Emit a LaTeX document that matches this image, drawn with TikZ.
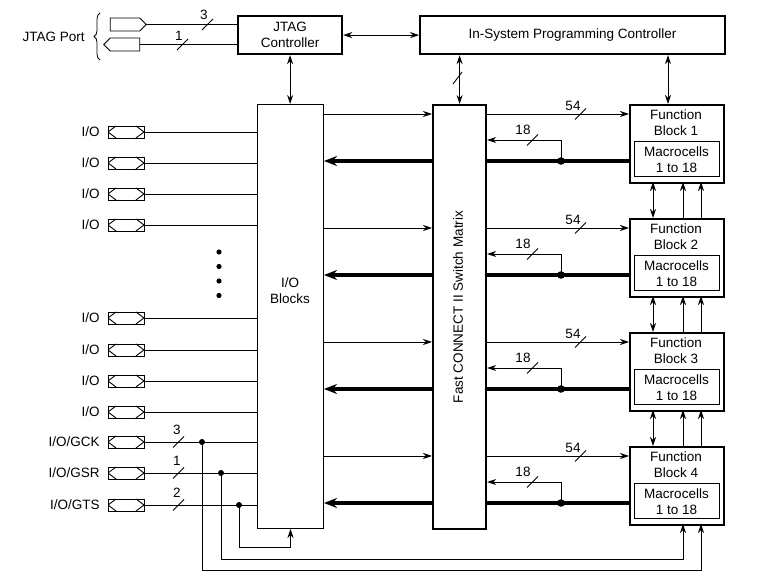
\documentclass[tikz,border=0pt]{standalone}
\usepackage{fontspec}
\setmainfont{Liberation Sans}
\usetikzlibrary{arrows.meta,calc,decorations.pathreplacing,shapes.symbols}
\begin{document}
\begin{tikzpicture}[x=1pt,y=-1pt,
  font=\fontsize{13.5}{16}\selectfont,
  line width=0.9pt,
  >={Stealth[length=9pt,width=6pt]},
  busarrow/.tip={Stealth[length=13pt,width=10pt]},
  box/.style={draw, line width=2.2pt, inner sep=0pt, align=center},
  thinbox/.style={draw, line width=1pt, inner sep=0pt, align=center},
  lbl/.style={inner sep=1pt},
  bus/.style={line width=3.3pt},
  padbox/.style={draw, line width=0.9pt, minimum width=36pt, minimum height=12pt, inner sep=0pt, outer sep=0pt,
    path picture={
      \draw[line width=0.9pt] ([xshift=8pt]path picture bounding box.north west) -- (path picture bounding box.west) -- ([xshift=8pt]path picture bounding box.south west);
      \draw[line width=0.9pt] ([xshift=-8pt]path picture bounding box.north east) -- (path picture bounding box.east) -- ([xshift=-8pt]path picture bounding box.south east);
    }},
  jpad/.style={draw, signal, signal pointer angle=90, minimum width=36pt, minimum height=13pt, inner sep=0pt, outer sep=0pt, line width=0.9pt}
]
\useasboundingbox (0,0) rectangle (764,585);

% ---- top blocks
\node[box, minimum width=104pt, minimum height=38pt, anchor=north west] (jtag) at (237,15) {JTAG\\Controller};
\node[box, minimum width=305pt, minimum height=38pt, anchor=north west] (isp) at (419,15) {In-System Programming Controller};
\draw[<->] (jtag.east) -- (isp.west);

% ---- JTAG port
\node[jpad, signal to=east] (jp1) at (125,24.5) {};
\node[jpad, signal to=west] (jp2) at (125,44.5) {};
\draw (jp1.east) -- (jtag.west |- jp1.east);
\draw (jp2.east) -- (jtag.west |- jp2.east);
\draw (202,30) -- (213,19);
\node[lbl] (j3) at (204,15) {3};
\draw (177,50) -- (188,39);
\node[lbl] (j1) at (179,36) {1};
\draw[decorate, decoration={brace, amplitude=6pt}, line width=0.8pt] (100,60) -- (100,13);
\node[lbl, anchor=east] (jport) at (86,37) {JTAG Port};

% ---- I/O blocks and switch matrix
\node[thinbox, minimum width=66pt, minimum height=424pt, anchor=north west] (iob) at (257,104) {};
\node[align=center] (iobt) at (290,291) {I/O\\Blocks};
\node[box, minimum width=53pt, minimum height=424pt, anchor=north west] (sw) at (432,104) {};
\node[rotate=90] (swt) at (458,307) {Fast CONNECT II Switch Matrix};

\draw[<->] (jtag.south) -- (jtag.south |- iob.north);
\draw[<->] (sw.north |- isp.south) -- (sw.north);
\draw (453,84) -- (462,72);

% ---- function blocks
\foreach \i/\t in {1/104,2/218,3/332,4/446}{
  \node[box, minimum width=94pt, minimum height=78pt, anchor=north west] (fb\i) at (629,\t) {};
  \node[align=center] (fbt\i) at (676,\t+19) {Function\\Block \i};
  \node[thinbox, minimum width=85pt, minimum height=35pt] (mc\i) at (676.5,\t+55.5) {Macrocells\\1 to 18};
  \coordinate (in\i) at (629,\t+10);
  \coordinate (fbk\i) at (629,\t+36);
  \coordinate (bus\i) at (629,\t+57);
  \coordinate (dot\i) at (561,\t+57);
  \coordinate (a\i) at (653,\t+78);
  \coordinate (b\i) at (683,\t+78);
  \coordinate (c\i) at (701,\t+78);
  \draw[->] (iob.east |- in\i) -- (sw.west |- in\i);
  \draw[->] (sw.east |- in\i) -- (in\i);
  \draw (575,\t+15.5) -- (586,\t+4.5);
  \node[lbl] (l54\i) at (573,\t+2) {54};
  \draw[bus] (bus\i) -- (sw.east |- bus\i);
  \draw[bus, -busarrow] (sw.west |- bus\i) -- (iob.east |- bus\i);
  \draw[->] (dot\i) |- (sw.east |- fbk\i);
  \fill (dot\i) circle (3.8);
  \draw (527,\t+41.5) -- (538,\t+30.5);
  \node[lbl] (l18\i) at (523,\t+26) {18};
}
\coordinate (ispfb) at (668,53);
\draw[<->] (ispfb |- isp.south) -- (ispfb |- fb1.north);
\foreach \i/\j in {1/2,2/3,3/4}{
  \draw[<->] (a\i) -- (a\i |- fb\j.north);
  \draw[->] (b\i |- fb\j.north) -- (b\i);
  \draw[->] (c\i |- fb\j.north) -- (c\i);
}

% ---- I/O pads
\foreach \k/\y in {1/132,2/163,3/194,4/225,5/318,6/350,7/381,8/412}{
  \node[padbox] (pad\k) at (126,\y) {};
  \node[lbl, anchor=east] (pl\k) at (101,\y) {I/O};
  \draw (pad\k.east) -- (iob.west |- pad\k.east);
}
\foreach \d/\y in {1/252,2/266.5,3/281,4/295.5}{
  \fill (219,\y) circle (2.6);
}
\foreach \k/\n/\y/\w in {G/GCK/442/3,S/GSR/473/1,T/GTS/505/2}{
  \node[padbox] (pad\k) at (126,\y) {};
  \node[lbl, anchor=east] (pl\k) at (101,\y) {I/O/\n};
  \draw (pad\k.east) -- (iob.west |- pad\k.east);
  \draw (173,\y+5.5) -- (184,\y-5.5);
  \node[lbl] (w\k) at (177,\y-12) {\w};
}
\coordinate (gck) at (202,442);
\coordinate (gckb) at (202,570);
\coordinate (gsr) at (221,473);
\coordinate (gsrb) at (221,559);
\coordinate (gts) at (239,505);
\coordinate (gtsb) at (239,547);
\fill (gck) circle (3);
\fill (gsr) circle (3);
\fill (gts) circle (3);
\draw[->] (gck) -- (gckb) -| (c4);
\draw[->] (gsr) -- (gsrb) -| (b4);
\draw[->] (gts) -- (gtsb) -| (iob.south);
\end{tikzpicture}
\end{document}
